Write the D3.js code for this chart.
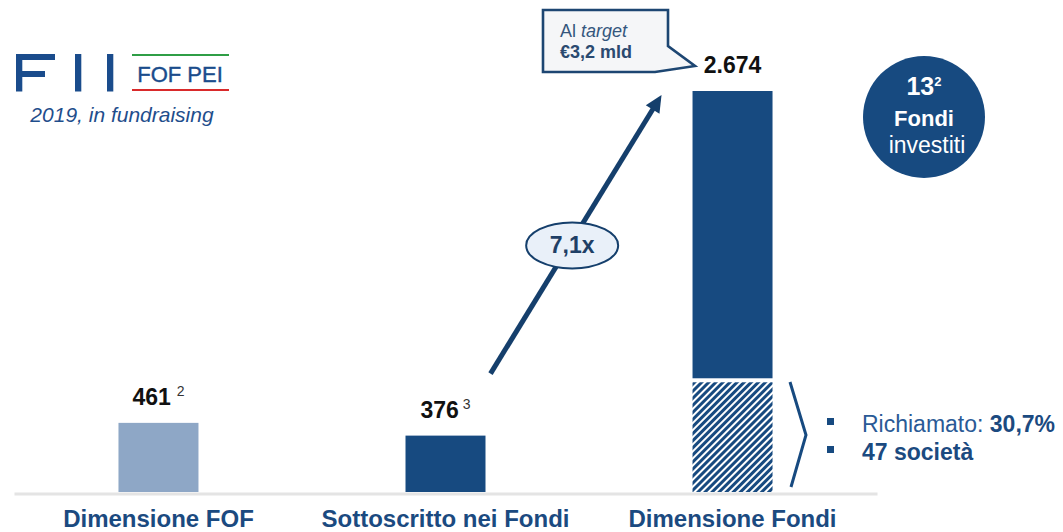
<!DOCTYPE html>
<meta charset="utf-8">
<html>
    <head>
        <style>
            html, body {
                margin: 0;
                padding: 0;
                background: #fff;
            }

            svg {
                display: block;
                font-family: "Liberation Sans", Arial, sans-serif;
            }

            .cat-axis .domain {
                stroke: #e4e4e4;
                stroke-width: 3;
            }

            .cat-axis text {
                fill: #1b4a80;
                font-size: 24px;
                font-weight: bold;
            }

            .value-label {
                font-size: 23px;
                font-weight: bold;
                fill: #111;
            }

            .footnote {
                font-size: 14px;
                font-weight: normal;
                fill: #333;
            }
        </style>
    </head>
    <body>
        <svg width="1063" height="532"></svg>

        <script src="https://cdn.jsdelivr.net/npm/d3@7"></script>
        <script>
            // chart data
            var categories = ['Dimensione FOF', 'Sottoscritto nei Fondi', 'Dimensione Fondi'];
            var values = [461, 376, 2674];
            var valueLabels = ['461', '376', '2.674'];
            var footnotes = ['2', '3', ''];
            var barColors = ['#8ea7c6', '#174a80', '#174a80'];
            // hatched (called) part of each bar
            var calledValues = [0, 0, 745];

            var multipleLabel = '7,1x';
            var calloutLines = [['Al ', 'target'], ['€3,2 mld']];
            var circleLines = ['13', 'Fondi', 'investiti'];
            var bulletNormal = ['Richiamato: ', ''];
            var bulletBold = ['30,7%', '47 società'];

            var svg = d3.select('svg'),
                blue = '#174a80';

            var x = d3.scaleBand()
                .domain(categories)
                .range([14, 877])
                .paddingInner(0.7213)
                .paddingOuter(0.364);

            var y = d3.scaleLinear()
                .domain([0, 2674])
                .range([492, 91]);

            var defs = svg.append('defs');
            var hatch = defs.append('pattern')
                .attr('id', 'hatch')
                .attr('patternUnits', 'userSpaceOnUse')
                .attr('width', 5)
                .attr('height', 5)
                .attr('patternTransform', 'rotate(45)');
            hatch.append('rect')
                .attr('width', 5).attr('height', 5).attr('fill', '#fff');
            hatch.append('rect')
                .attr('width', 3).attr('height', 5).attr('fill', blue);

            // logo
            var logo = svg.append('g').attr('fill', '#1a4c8c');
            [[16, 54, 6.3, 37.5], [16, 54, 39, 6], [16, 71, 29, 6], [75, 54, 6.3, 37.5], [107, 54, 6.3, 37.5]]
                .forEach(function (r) {
                    logo.append('rect').attr('x', r[0]).attr('y', r[1]).attr('width', r[2]).attr('height', r[3]);
                });
            svg.append('line').attr('x1', 132).attr('x2', 229).attr('y1', 55).attr('y2', 55)
                .attr('stroke', '#2f9e46').attr('stroke-width', 2.2);
            svg.append('line').attr('x1', 132).attr('x2', 229).attr('y1', 90).attr('y2', 90)
                .attr('stroke', '#d92a2b').attr('stroke-width', 2.2);
            svg.append('text')
                .attr('x', 180).attr('y', 82)
                .attr('text-anchor', 'middle')
                .attr('font-size', 22)
                .attr('fill', '#1a4c8c')
                .attr('stroke', '#1a4c8c').attr('stroke-width', 0.4)
                .text('FOF PEI');
            svg.append('text')
                .attr('x', 122).attr('y', 122)
                .attr('text-anchor', 'middle')
                .attr('font-size', 21)
                .attr('font-style', 'italic')
                .attr('fill', '#1f4e8c')
                .text('2019, in fundraising');

            // bars
            var bars = svg.append('g');
            values.forEach(function (v, i) {
                var c = categories[i],
                    called = calledValues[i];
                if (called > 0) {
                    bars.append('rect')
                        .attr('x', x(c))
                        .attr('y', y(v))
                        .attr('width', x.bandwidth())
                        .attr('height', y(called) - y(v) - 2)
                        .attr('fill', barColors[i]);
                    bars.append('rect')
                        .attr('x', x(c))
                        .attr('y', y(called) + 2)
                        .attr('width', x.bandwidth())
                        .attr('height', y(0) - y(called) - 2)
                        .attr('fill', 'url(#hatch)');
                } else {
                    bars.append('rect')
                        .attr('x', x(c))
                        .attr('y', y(v))
                        .attr('width', x.bandwidth())
                        .attr('height', y(0) - y(v))
                        .attr('fill', barColors[i]);
                }

                var label = bars.append('text')
                    .attr('class', 'value-label')
                    .attr('x', x(c) + x.bandwidth() / 2)
                    .attr('y', y(v) - 18)
                    .attr('text-anchor', 'middle');
                label.append('tspan').text(valueLabels[i]);
                if (footnotes[i]) {
                    label.append('tspan')
                        .attr('class', 'footnote')
                        .attr('dx', i === 0 ? 6 : 4)
                        .attr('dy', -9)
                        .text(footnotes[i]);
                }
            });

            // category axis
            svg.append('g')
                .attr('class', 'cat-axis')
                .attr('transform', 'translate(0,' + (y(0) + 1.5) + ')')
                .call(d3.axisBottom(x).tickSize(0).tickPadding(16))
                .call(function (g) { g.selectAll('text').attr('font-family', null); });

            // growth arrow
            var c2 = categories[1], c3 = categories[2];
            var x0 = x(c2) + x.bandwidth() + 5, y0 = y(values[1]) - 62,
                x1 = x(c3) - 31, y1 = y(values[2]) + 4;
            var dx = x1 - x0, dy = y1 - y0, len = Math.sqrt(dx * dx + dy * dy),
                ux = dx / len, uy = dy / len;
            svg.append('line')
                .attr('x1', x0).attr('y1', y0)
                .attr('x2', x1 - ux * 12).attr('y2', y1 - uy * 12)
                .attr('stroke', '#153f6c').attr('stroke-width', 5);
            var hb = [x1 - ux * 17, y1 - uy * 17];
            svg.append('path')
                .attr('d', 'M' + x1 + ',' + y1 +
                    'L' + (hb[0] - uy * 8) + ',' + (hb[1] + ux * 8) +
                    'L' + (hb[0] + uy * 8) + ',' + (hb[1] - ux * 8) + 'Z')
                .attr('fill', '#153f6c');

            var t = 0.46, ex = x0 + dx * t + 3, ey = y0 + dy * t;
            svg.append('ellipse')
                .attr('cx', ex).attr('cy', ey)
                .attr('rx', 46).attr('ry', 23)
                .attr('fill', '#e9f0f9')
                .attr('stroke', '#153f6c').attr('stroke-width', 2);
            svg.append('text')
                .attr('x', ex).attr('y', ey + 8)
                .attr('text-anchor', 'middle')
                .attr('font-size', 23).attr('font-weight', 'bold')
                .attr('fill', '#1f3f66')
                .text(multipleLabel);

            // callout
            svg.append('path')
                .attr('d', 'M543,10H668V46L695,66L655,72H543Z')
                .attr('fill', '#f5f6f8')
                .attr('stroke', '#1d4672').attr('stroke-width', 2.6)
                .attr('stroke-linejoin', 'miter');
            var l1 = svg.append('text').attr('x', 560).attr('y', 37)
                .attr('font-size', 18).attr('fill', '#34567d');
            l1.append('tspan').text(calloutLines[0][0]);
            l1.append('tspan').attr('font-style', 'italic').text(calloutLines[0][1]);
            svg.append('text').attr('x', 560).attr('y', 58)
                .attr('font-size', 18).attr('font-weight', 'bold').attr('fill', '#2b4a70')
                .text(calloutLines[1][0]);

            // circle
            var cx = 924, cy = 117;
            svg.append('circle').attr('cx', cx).attr('cy', cy).attr('r', 61).attr('fill', blue);
            var ct = svg.append('text').attr('x', cx).attr('y', 95)
                .attr('text-anchor', 'middle').attr('fill', '#fff')
                .attr('font-size', 25).attr('font-weight', 'bold');
            ct.append('tspan').text(circleLines[0]);
            ct.append('tspan').attr('font-size', 13).attr('dy', -9).text('2');
            svg.append('text').attr('x', cx).attr('y', 126)
                .attr('text-anchor', 'middle').attr('fill', '#fff')
                .attr('font-size', 22).attr('font-weight', 'bold')
                .text(circleLines[1]);
            svg.append('text').attr('x', cx + 3).attr('y', 153)
                .attr('text-anchor', 'middle').attr('fill', '#fff')
                .attr('font-size', 23)
                .text(circleLines[2]);

            // brace and bullets
            svg.append('path')
                .attr('d', 'M790,382L806,435L791,487')
                .attr('fill', 'none')
                .attr('stroke', blue).attr('stroke-width', 3);
            bulletBold.forEach(function (b, i) {
                var by = 432 + i * 28;
                svg.append('rect')
                    .attr('x', 827).attr('y', by - 14)
                    .attr('width', 7).attr('height', 7)
                    .attr('fill', blue);
                var bt = svg.append('text').attr('x', 862).attr('y', by)
                    .attr('font-size', 23);
                if (bulletNormal[i]) {
                    bt.append('tspan').attr('fill', '#2a5a96').text(bulletNormal[i]);
                }
                bt.append('tspan').attr('fill', '#1b4a80').attr('font-weight', 'bold').text(b);
            });
        </script>
    </body>
</html>
